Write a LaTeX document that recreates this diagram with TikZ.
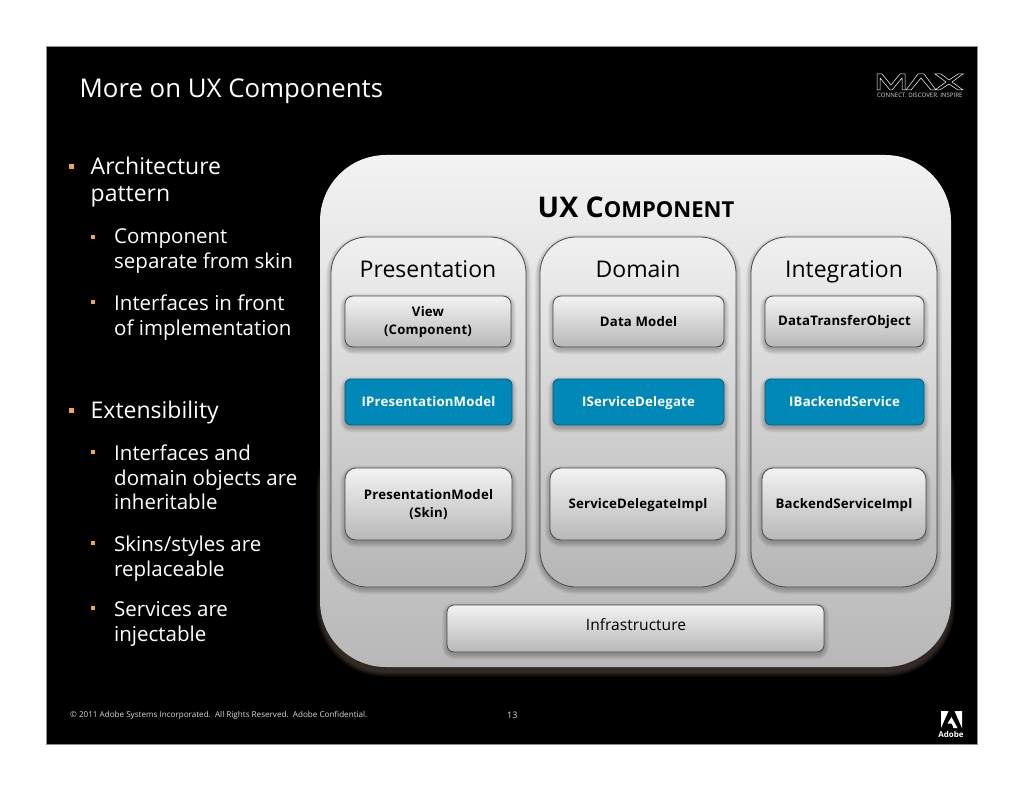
\documentclass[tikz,border=0pt]{standalone}
\usepackage{fontspec}
\setmainfont{Open Sans}
\newfontfamily\lab{Open Sans}[LetterSpace=1.5]
\definecolor{glowc}{HTML}{6E5C50}
\definecolor{blueb}{HTML}{0088B8}
\definecolor{edgec}{HTML}{4A4A4A}
\definecolor{bul}{HTML}{F0A848}
\newcommand{\stt}{\rule[-3pt]{0pt}{15pt}}
\tikzset{
  boxbase/.style={draw=edgec,line width=0.8pt,align=center,inner sep=0pt,text=black},
  panel/.style={boxbase,top color=white!94!black,bottom color=white!71!black},
  smallbox/.style={boxbase,top color=white!95!black,bottom color=white!72!black,font=\fontsize{13.2}{18}\lab\bfseries},
  bluebox/.style={boxbase,draw=blueb!70!black,fill=blueb,text=white,font=\fontsize{13.2}{18}\lab\bfseries},
  heading/.style={anchor=base,text=black,font=\fontsize{23}{28}\selectfont},
  l1/.style={anchor=base west,text=white,inner sep=0pt,yshift=-1pt,font=\fontsize{23}{28}\selectfont},
  l2/.style={anchor=base west,text=white,inner sep=0pt,yshift=-1pt,font=\fontsize{20.5}{26}\selectfont},
  bullet/.style={fill=bul,inner sep=0pt,minimum size=5pt},
  foot/.style={anchor=base west,text=white!85!black,inner sep=0pt,font=\fontsize{8.1}{10}\selectfont},
}
% soft shadow under a rounded rectangle
\newcommand{\softshade}[8]{% x1,y1,x2,y2,r,shift,colour,opacity
  \foreach \i in {0,...,6}{
    \fill[#7,opacity=#8,rounded corners={#5pt+\i*0.8pt}]
      (#1-\i*0.8,#2+#6-\i*0.8) rectangle (#3+\i*0.8,#4+#6+\i*0.8);
  }}
\newcommand{\rbox}[8]{% name,x1,y1,x2,y2,r,style,text
  \softshade{#2}{#3}{#4}{#5}{#6}{2.5}{glowc!50!black}{0.05}
  \pgfmathsetmacro{\bw}{#4-#2}\pgfmathsetmacro{\bh}{#5-#3}
  \node[#7,rounded corners=#6pt,minimum width=\bw pt,minimum height=\bh pt] (#1) at ({(#2+#4)/2},{(#3+#5)/2}) {#8};
}
\begin{document}
\begin{tikzpicture}[x=1pt,y=-1pt]
\useasboundingbox (0,0) rectangle (1024,791);
\fill[white] (0,0) rectangle (1024,791);
\node[draw=white!55!black,fill=black,line width=0.8pt,minimum width=931pt,minimum height=698pt,inner sep=0pt] (slide) at (511.5,395) {};

\node[anchor=base west,text=white,inner sep=0pt,font=\fontsize{25.8}{30}\selectfont] (title) at (79.5,98) {More on UX Components};

% MAX logo
\draw[white,line width=0.5pt,line join=miter]
  (877,90)--(877,74)--(882,74)--(891,85)--(900,74)--(905,74)--(905,90)--(902,90)--(902,78)--(892,90)--(890,90)--(880,78)--(880,90)--cycle
  (906,90)--(918,74)--(924,74)--(936,90)--(931,90)--(921,78)--(911,90)--cycle
  (935,74)--(941,74)--(949,80)--(958,74)--(963,74)--(952,82)--(963,90)--(958,90)--(949,84)--(940,90)--(935,90)--(946,82)--cycle;
\node[anchor=base west,text=white!85!black,inner sep=0pt,font=\fontsize{6.1}{7}\selectfont] (maxtag) at (877,97.5) {CONNECT. DISCOVER. INSPIRE};

% Left bullets
\node[bullet] (b1) at (71.5,167) {};
\node[l1] (t1a) at (90.5,174) {Architecture};
\node[l1] (t1b) at (90.5,201) {pattern};
\node[bullet,minimum size=4.5pt] (b2) at (93,237) {};
\node[l2] (t2a) at (114,243) {Component};
\node[l2] (t2b) at (114,268) {separate from skin};
\node[bullet,minimum size=4.5pt] (b3) at (93,302) {};
\node[l2] (t3a) at (114,309) {Interfaces in front};
\node[l2] (t3b) at (114,334) {of implementation};
\node[bullet] (b4) at (71.5,410) {};
\node[l1] (t4) at (90.5,417) {Extensibility};
\node[bullet,minimum size=4.5pt] (b5) at (93,452) {};
\node[l2] (t5a) at (114,459) {Interfaces and};
\node[l2] (t5b) at (114,484) {domain objects are};
\node[l2] (t5c) at (114,508) {inheritable};
\node[bullet,minimum size=4.5pt] (b6) at (93,543) {};
\node[l2] (t6a) at (114,550) {Skins/styles are};
\node[l2] (t6b) at (114,575) {replaceable};
\node[bullet,minimum size=4.5pt] (b7) at (93,608) {};
\node[l2] (t7a) at (114,615) {Services are};
\node[l2] (t7b) at (114,640) {injectable};

% Outer container
\softshade{321}{420}{950}{666}{64}{6}{glowc}{0.09}
\node[draw=none,top color=white!95!black,bottom color=white!72!black,rounded corners=66pt,minimum width=631pt,minimum height=512pt,inner sep=0pt] (outer) at (635.5,411) {};
\node[anchor=base,text=black,inner sep=0pt,font=\fontsize{28.5}{32}\selectfont] (uxtitle) at (636,218) {\textbf{UX C{\fontsize{22}{24}\selectfont OMPONENT}}};

% Panels
\rbox{pres}{331}{237}{526}{587}{36}{panel}{}
\rbox{dom}{540}{237}{736}{587}{36}{panel}{}
\rbox{integ}{751}{237}{937}{587}{36}{panel}{}
\node[heading] (hp) at (428,277) {Presentation};
\node[heading] (hd) at (638,277) {Domain};
\node[heading] (hi) at (844,277) {Integration};

% Row 1
\rbox{view}{345}{296}{511}{347}{8}{smallbox}{\stt View\\\stt (Component)}
\rbox{dm}{553}{296}{724}{347}{8}{smallbox}{\stt Data Model}
\rbox{dto}{765}{296}{924}{347}{8}{smallbox}{\stt DataTransferObject}
% Row 2
\rbox{ipm}{345}{379}{512}{425}{6}{bluebox}{\stt IPresentationModel}
\rbox{isd}{553}{379}{724}{425}{6}{bluebox}{\stt IServiceDelegate}
\rbox{ibs}{765}{379}{924}{425}{6}{bluebox}{\stt IBackendService}
% Row 3
\rbox{pmi}{345}{468}{512}{540}{11}{smallbox}{\stt PresentationModel\\\stt (Skin)}
\rbox{sdi}{550}{468}{726}{540}{11}{smallbox}{\stt ServiceDelegateImpl}
\rbox{bsi}{762}{468}{926}{540}{11}{smallbox}{\stt BackendServiceImpl}
% Infrastructure
\rbox{infra}{447}{605}{824}{652}{7}{smallbox}{}
\node[anchor=base,text=black,inner sep=0pt,font=\fontsize{15.6}{20}\selectfont] (infral) at (636,630) {Infrastructure};

% Footer
\node[foot] (copy) at (70,717) {© 2011 Adobe Systems Incorporated.~~All Rights Reserved.~~Adobe Confidential.};
\node[foot,font=\fontsize{9}{11}\selectfont] (pg) at (507,718) {13};

% Adobe logo
\fill[white] (941,711)--(948.5,711)--(941,728)--cycle
  (954.5,711)--(962,711)--(962,728)--cycle
  (951.5,717)--(957.5,728)--(953.5,728)--(951.7,723.5)--(947.5,723.5)--cycle;
\node[anchor=base,text=white,inner sep=0pt,font=\fontsize{8}{10}\selectfont\bfseries] (adobe) at (951,737) {Adobe};
\end{tikzpicture}
\end{document}
